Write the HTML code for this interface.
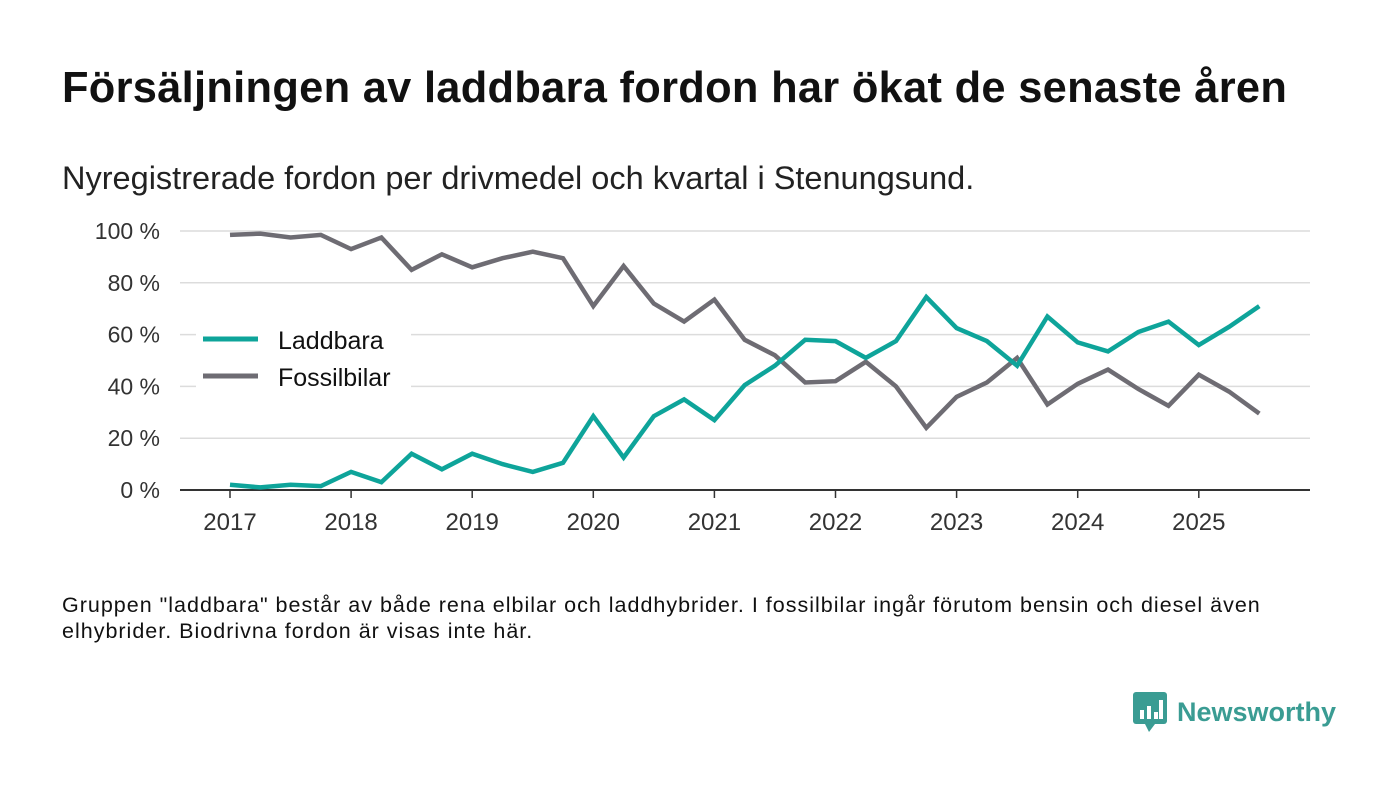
<!DOCTYPE html>
<html><head><meta charset="utf-8">
<style>
body{margin:0;width:1400px;height:793px;background:#fff;font-family:"Liberation Sans",sans-serif;color:#111;overflow:hidden;position:relative}
h1{position:absolute;left:62px;top:64px;margin:0;font-size:43.4px;font-weight:bold;letter-spacing:0.3px;white-space:nowrap}
.sub{position:absolute;left:62px;top:160px;font-size:32.5px;color:#222;white-space:nowrap}
.foot{position:absolute;left:62px;top:592px;font-size:21.5px;letter-spacing:1px;line-height:26px;color:#111;width:1300px}
.logo{position:absolute;left:1133px;top:692px;display:flex;align-items:center}
.logo span{font-size:27px;font-weight:bold;color:#3a9c93;margin-left:10px}
</style></head><body>
<h1>Försäljningen av laddbara fordon har ökat de senaste åren</h1>
<div class="sub">Nyregistrerade fordon per drivmedel och kvartal i Stenungsund.</div>
<svg id="chart" width="1400" height="793" style="position:absolute;left:0;top:0"></svg>
<div class="foot">Gruppen "laddbara" består av både rena elbilar och laddhybrider. I fossilbilar ingår förutom bensin och diesel även<br>elhybrider. Biodrivna fordon är visas inte här.</div>
<div class="logo">
<svg width="34" height="40" viewBox="0 0 34 40"><rect x="0" y="0" width="34" height="32" rx="3" fill="#3a9c93"/><polygon points="12,32 22,32 16,40" fill="#3a9c93"/><rect x="7" y="18" width="4" height="9" fill="#fff"/><rect x="14" y="14" width="4" height="13" fill="#fff"/><rect x="21" y="20" width="4" height="7" fill="#fff"/><rect x="26" y="8" width="4" height="19" fill="#fff"/></svg>
<span>Newsworthy</span></div>
<script>
const years=[2017,2018,2019,2020,2021,2022,2023,2024,2025];
const yTicks=[0,20,40,60,80,100];
const laddbara=[2,1,2,1.5,7,3,14,8,14,10,7,10.5,28.5,12.5,28.5,35,27,40.5,48,58,57.5,51,57.5,74.5,62.5,57.5,48,67,57,53.5,61,65,56,63,71];
const fossil=[98.5,99,97.5,98.5,93,97.5,85,91,86,89.5,92,89.5,71,86.5,72,65,73.5,58,52,41.5,42,49.5,40,24,36,41.5,51,33,41,46.5,39,32.5,44.5,38,29.5];
const NS='http://www.w3.org/2000/svg';
const svg=document.getElementById('chart');
const x=t=>230+(t-2017)*121.1;
const y=v=>490-v*2.59;
function el(tag,attrs){const e=document.createElementNS(NS,tag);for(const k in attrs)e.setAttribute(k,attrs[k]);svg.appendChild(e);return e;}
yTicks.forEach(v=>{
  if(v>0){const g=el('line',{x1:180,x2:1310,y1:y(v),y2:y(v),stroke:'#dcdcdc','stroke-width':1.5});
  
  }
  const t=el('text',{x:160,y:y(v)+8,'text-anchor':'end','font-size':23,fill:'#333','font-family':'Liberation Sans, sans-serif'});
  t.textContent=v+' %';
  
  
});
const ax=el('line',{x1:180,x2:1310,y1:490,y2:490,stroke:'#333','stroke-width':2});


years.forEach(yr=>{
  const tk=el('line',{x1:x(yr),x2:x(yr),y1:490,y2:498,stroke:'#333','stroke-width':1.5});
  
  
  const t=el('text',{x:x(yr),y:530,'text-anchor':'middle','font-size':24,fill:'#333','font-family':'Liberation Sans, sans-serif'});
  t.textContent=yr;
  
  
});
const lb=el('rect',{x:196,y:320,width:215,height:76,fill:'#fff'});


function series(data,color,name){
  const pts=data.map((v,i)=>x(2017+i/4).toFixed(1)+','+y(v).toFixed(1)).join(' ');
  const p=el('polyline',{points:pts,fill:'none',stroke:color,'stroke-width':4.5,'stroke-linejoin':'miter'});
  
  
}
series(fossil,'#6e6c73','line-fossilbilar');
series(laddbara,'#0ea49a','line-laddbara');
[['Laddbara','#0ea49a',340],['Fossilbilar','#6e6c73',377]].forEach(([n,c,yy])=>{
  const l=el('line',{x1:203,x2:258,y1:yy-1,y2:yy-1,stroke:c,'stroke-width':5});
  
  
  const t=el('text',{x:278,y:yy+9,'font-size':25,fill:'#111','font-family':'Liberation Sans, sans-serif'});
  t.textContent=n;
  
  
});
</script>
</body></html>
